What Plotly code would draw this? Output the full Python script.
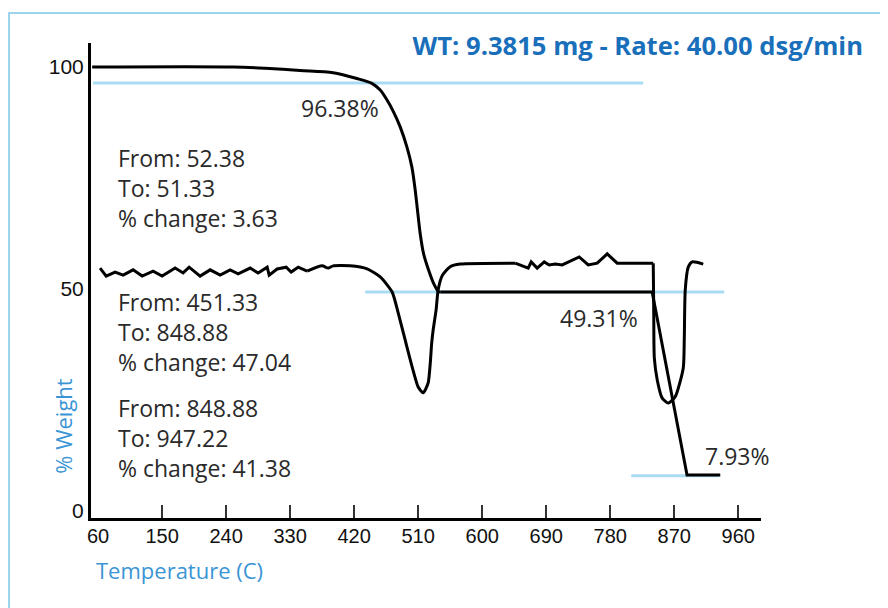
import plotly.graph_objects as go

# ---- data ----
tga_temp = [51.6, 249.8, 294.8, 344.1, 390.5, 423.8, 444.9, 456.6, 466.0, 475.3,
            484.7, 494.1, 501.1, 505.8, 509.0, 512.8, 517.5, 524.5, 531.5, 538.5,
            541.0, 839.0, 888.0, 934.7]
tga_weight = [100.0, 100.0, 99.7, 99.2, 98.7, 97.4, 96.3, 94.8, 92.6, 89.9,
              86.5, 82.0, 77.5, 72.3, 67.8, 62.5, 58.0, 54.3, 51.3, 49.4,
              49.3, 49.3, 8.1, 8.1]

dtg_temp = [62.8, 71.3, 83.9, 95.2, 109.2, 121.9, 137.3, 150.0, 168.3, 179.5,
            188.0, 203.4, 217.5, 231.6, 245.6, 256.9, 273.8, 285.0, 297.7, 300.5,
            311.7, 324.4, 331.4, 341.3, 353.9, 375.0, 383.4, 390.5, 414.4, 438.3,
            456.6, 473.4, 481.9, 491.7, 501.6, 510.0, 517.0, 524.0, 527.0, 529.0,
            531.1, 535.3, 538.1, 543.8, 555.0, 569.1, 646.4, 664.7, 668.9, 677.3,
            687.2, 694.2, 702.7, 712.5, 736.4, 749.1, 761.7, 775.8, 789.8, 840.5,
            841.2, 842.0, 846.1, 853.1, 861.6, 871.4, 882.7, 884.1, 885.5, 889.7,
            895.3, 910.8]
dtg_value = [54.7, 52.9, 53.8, 53.1, 54.3, 52.9, 54.0, 52.9, 54.7, 53.6,
             54.9, 52.9, 54.3, 53.1, 54.3, 53.4, 54.7, 53.6, 54.9, 53.1,
             54.5, 54.9, 53.8, 54.9, 54.0, 55.2, 54.7, 55.2, 55.2, 54.5,
             52.7, 49.3, 44.6, 38.5, 32.4, 27.9, 26.6, 28.8, 33.3, 37.8,
             40.8, 45.4, 49.8, 53.0, 55.0, 55.6, 55.8, 54.7, 56.1, 54.7,
             56.1, 55.4, 55.6, 55.4, 57.2, 55.4, 55.8, 57.9, 55.8, 55.8,
             45.0, 34.5, 29.5, 25.4, 24.3, 25.7, 32.2, 38.5, 49.8, 54.9,
             56.1, 55.6]

# drawing style per stretch of each curve: (first index, last index, line shape)
tga_segments = [(0, 20, "spline"), (20, 23, "linear")]
dtg_segments = [(0, 24, "linear"), (24, 46, "spline"), (46, 59, "linear"), (59, 71, "spline")]

ref_levels = [96.38, 49.31, 7.93]
ref_from = [53.0, 435.5, 809.5]
ref_to = [826.4, 940.3, 933.3]

level_labels = ["96.38%", "49.31%", "7.93%"]
level_label_x = [343.0, 706.9, 910.7]
level_label_y = [90.8, 43.5, 12.4]

block_texts = [
    ["From: 52.38", "To: 51.33", "% change: 3.63"],
    ["From: 451.33", "To: 848.88", "% change: 47.04"],
    ["From: 848.88", "To: 947.22", "% change: 41.38"],
]
block_x = [85.0, 85.0, 85.0]
block_y = [72.7, 40.3, 16.4]

x_tick_labels = [60, 150, 240, 330, 420, 510, 600, 690, 780, 870, 960]
x_tick_marks = [150, 240, 330, 420, 510, 600, 690, 780, 870, 960]
y_tick_labels = [0, 50, 100]

title_text = "WT: 9.3815 mg - Rate: 40.00 dsg/min"
x_title = "Temperature (C)"
y_title = "% Weight"

X_RANGE = [50, 992]
Y_RANGE = [-1.6, 105.4]

TEXT_FONT = "'Open Sans', Lato, sans-serif"
TICK_FONT = "'Liberation Sans', Arial, sans-serif"
DARK_BLUE = "#1a6fba"
LIGHT_BLUE = "#3b95d5"
REF_BLUE = "#a9dcf3"
TEXT_COLOR = "#2a2a2a"

fig = go.Figure()

for lvl, x0, x1 in zip(ref_levels, ref_from, ref_to):
    fig.add_trace(go.Scatter(x=[x0, x1], y=[lvl, lvl], mode="lines",
                             line=dict(color=REF_BLUE, width=3),
                             hoverinfo="skip", showlegend=False,
                             xaxis="x", yaxis="y"))


def add_curve(xs, ys, segments, smoothing):
    for i0, i1, shape in segments:
        line = dict(color="black", width=3, shape=shape)
        if shape == "spline":
            line["smoothing"] = smoothing
        fig.add_trace(go.Scatter(x=xs[i0:i1 + 1], y=ys[i0:i1 + 1], mode="lines",
                                 line=line, showlegend=False,
                                 xaxis="x2", yaxis="y"))


add_curve(tga_temp, tga_weight, tga_segments, 0.8)
add_curve(dtg_temp, dtg_value, dtg_segments, 0.6)

annotations = []
for txt, x, y in zip(level_labels, level_label_x, level_label_y):
    annotations.append(dict(x=x, y=y, xref="x", yref="y", text=txt, showarrow=False,
                            xanchor="left", yanchor="middle",
                            font=dict(family=TEXT_FONT, size=23, color=TEXT_COLOR)))
for lines, x, y in zip(block_texts, block_x, block_y):
    annotations.append(dict(x=x, y=y, xref="x", yref="y", text="<br>".join(lines),
                            showarrow=False, xanchor="left", yanchor="middle", align="left",
                            font=dict(family=TEXT_FONT, size=23, color=TEXT_COLOR)))
annotations.append(dict(x=0.004, y=-0.109, xref="paper", yref="paper", text=x_title,
                        showarrow=False, xanchor="left", yanchor="middle",
                        font=dict(family=TEXT_FONT, size=22, color=LIGHT_BLUE)))
annotations.append(dict(x=-0.042, y=0.194, xref="paper", yref="paper", text=y_title,
                        showarrow=False, xanchor="center", yanchor="middle", textangle=-90,
                        font=dict(family=TEXT_FONT, size=22, color=LIGHT_BLUE)))

# the page adds an 8px body margin, so the figure is sized to fit the window
fig.update_layout(
    width=880, height=600,
    margin=dict(l=83, r=127, t=35, b=90),
    paper_bgcolor="white", plot_bgcolor="white",
    title=dict(text="<b>" + title_text + "</b>", x=855 / 880, xanchor="right",
               y=1 - 38 / 600, yanchor="middle", xref="container", yref="container",
               font=dict(family=TEXT_FONT, size=25.6, color=DARK_BLUE)),
    xaxis=dict(range=X_RANGE, showgrid=False, zeroline=False,
               showline=True, linecolor="black", linewidth=3,
               tickmode="array", tickvals=x_tick_marks, ticks="inside",
               ticklen=13, tickwidth=1.5, tickcolor="#333333",
               showticklabels=False),
    xaxis2=dict(range=X_RANGE, overlaying="x", anchor="y", side="bottom",
                showgrid=False, zeroline=False, showline=False,
                tickmode="array", tickvals=x_tick_labels,
                ticktext=[str(v) for v in x_tick_labels], ticks="",
                ticklabelstandoff=4,
                tickfont=dict(family=TICK_FONT, size=20, color="#111111")),
    yaxis=dict(range=Y_RANGE, showgrid=False, zeroline=False,
               showline=True, linecolor="black", linewidth=3,
               tickmode="array", tickvals=y_tick_labels,
               ticktext=[str(v) for v in y_tick_labels], ticks="",
               ticklabelstandoff=0,
               tickfont=dict(family=TICK_FONT, size=21, color="#111111")),
    annotations=annotations,
    shapes=[dict(type="rect", xref="paper", yref="paper",
                 x0=(9 - 91) / 670, x1=(900 - 91) / 670,
                 y0=(518 - 640) / 475, y1=(518 - 13) / 475,
                 line=dict(color="#7cc6e6", width=1.5), fillcolor="rgba(0,0,0,0)",
                 layer="below")],
)

fig.write_html("out.html")
